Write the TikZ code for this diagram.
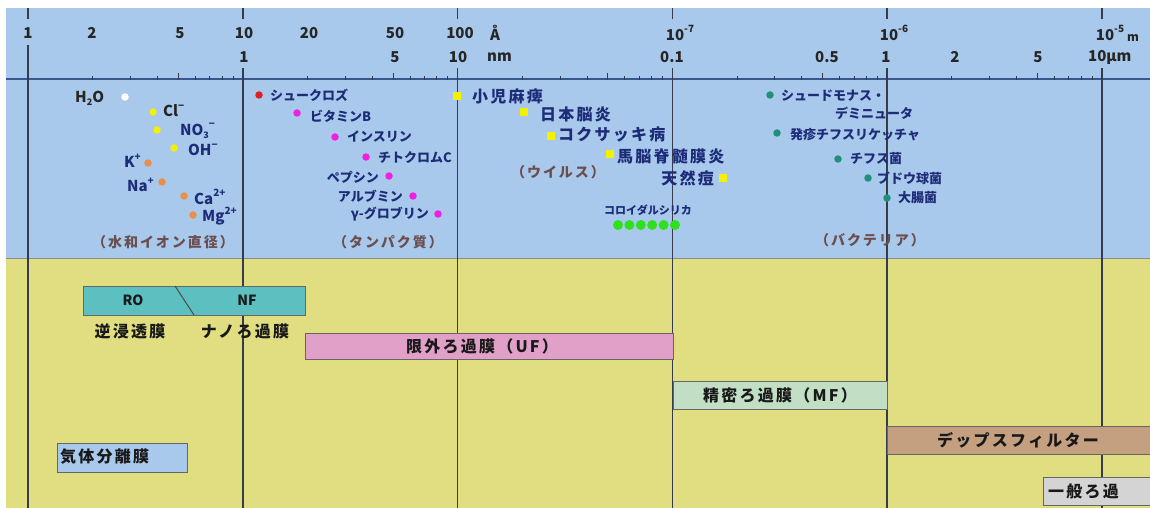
\documentclass[tikz,border=0pt]{standalone}
\usepackage{fontspec}
\setmainfont{Noto Sans CJK JP}
\newfontfamily\jpw{Noto Sans CJK JP}[LetterSpace=14]
\newcommand\fs[1]{\fontsize{#1}{#1}\selectfont}
\newcommand\spx[1]{\raisebox{0.9ex}{\fs{10}#1}}
\newcommand\sbx[1]{\raisebox{-0.4ex}{\fs{9}#1}}
\definecolor{bluebg}{HTML}{A9C9EC}
\definecolor{yellowbg}{HTML}{E0DE80}
\definecolor{navy}{HTML}{1E2C78}
\definecolor{capc}{HTML}{6B4E4E}
\definecolor{decc}{HTML}{363C4C}
\definecolor{axc}{HTML}{3A5890}
\definecolor{dyel}{HTML}{F5F000}
\definecolor{dora}{HTML}{E8904A}
\definecolor{dred}{HTML}{E02020}
\definecolor{dmag}{HTML}{F020E0}
\definecolor{dteal}{HTML}{20907A}
\definecolor{dgrn}{HTML}{30E020}
\definecolor{ronf}{HTML}{5CC0C0}
\definecolor{ufc}{HTML}{E0A0C8}
\definecolor{mfc}{HTML}{C2DEC4}
\definecolor{depc}{HTML}{C4A080}
\definecolor{genc}{HTML}{D4D4D4}
\tikzset{
  axnum/.style={inner sep=0, text=black!85, font=\bfseries\fs{15}},
  ion/.style={inner sep=0, text=black!85, font=\bfseries\fs{15}},
  prot/.style={inner sep=0, text=navy, font=\bfseries\fs{13}},
  vir/.style={inner sep=0, text=navy, font=\jpw\bfseries\fs{16}},
  capt/.style={inner sep=0, text=capc, font=\jpw\bfseries\fs{14}},
  dot/.style={circle, inner sep=0, minimum size=7.5pt, fill=#1},
  sqd/.style={rectangle, inner sep=0, minimum size=8pt, fill=dyel},
  gdot/.style={circle, inner sep=0, minimum size=10pt, fill=dgrn},
  band/.style={draw=black!60, line width=1pt, fill=#1},
  bandtxt/.style={inner sep=0, text=black!90, font=\jpw\bfseries\fs{16}},
  dec/.style={draw=decc, line width=1.7pt},
}
\begin{document}
\begin{tikzpicture}[x=1pt,y=-1pt]
\useasboundingbox (0,0) rectangle (1150,508);
\fill[white] (0,0) rectangle (1150,508);
\fill[bluebg] (6,8) rectangle (1150,258);
\fill[yellowbg] (6,258) rectangle (1150,508);
\draw[black!45, line width=0.8pt] (6,258) -- (1150,258);
% axis
\draw[axc, line width=1.2pt] (6,79) -- (1150,79);
\foreach \d in {0,...,4} {
  \foreach \m in {2,...,9} {
    \pgfmathsetmacro\xx{28+214.8*(\d+ln(\m)/ln(10))}
    \ifnum\m=5
      \draw[decc, line width=0.8pt] (\xx,73) -- (\xx,80);
    \else
      \draw[decc, line width=0.8pt] (\xx,76) -- (\xx,80);
    \fi
  }
}
\foreach \i in {0,...,5} {
  \pgfmathsetmacro\xx{28+214.8*\i}
  \draw[dec] (\xx,8) -- (\xx,19);
}
\draw[dec] (28,45) -- (28,508);
\foreach \i in {1,...,5} {
  \pgfmathsetmacro\xx{28+214.8*\i}
  \draw[dec] (\xx,68) -- (\xx,508);
}
% axis labels row 1
\node[axnum] (a1) at (28,33) {1};
\node[axnum] (a2) at (92,33) {2};
\node[axnum] (a5) at (180,33) {5};
\node[axnum] (a10) at (244,33) {10};
\node[axnum] (a20) at (309,33) {20};
\node[axnum] (a50) at (395,33) {50};
\node[axnum] (a100) at (460,33) {100};
\node[axnum, anchor=west] (aang) at (490,33) {Å};
\node[axnum] (am7) at (680,33) {10\spx{-7}};
\node[axnum] (am6) at (894,33) {10\spx{-6}};
\node[axnum] (am5) at (1110,33) {10\spx{-5}};
\node[axnum, font=\bfseries\fs{12}, anchor=west] (am) at (1127,38) {m};
% axis labels row 2
\node[axnum] (b1) at (244,57) {1};
\node[axnum] (b5) at (395,57) {5};
\node[axnum] (b10) at (458,57) {10};
\node[axnum, anchor=west] (bnm) at (487,57) {nm};
\node[axnum] (b01) at (672,57) {0.1};
\node[axnum] (b05) at (827,57) {0.5};
\node[axnum] (b1u) at (886,57) {1};
\node[axnum] (b2u) at (955,57) {2};
\node[axnum] (b5u) at (1038,57) {5};
\node[axnum, anchor=west] (b10u) at (1088,57) {10{\itshape µ}m};
% ions
\node[dot=white] (dh2o) at (125,97) {};
\node[ion, anchor=west] (th2o) at (75,98) {H\sbx{2}O};
\node[dot=dyel] (dcl) at (153,112) {};
\node[ion, anchor=west] (tcl) at (163,111) {Cl\spx{−}};
\node[dot=dyel] (dno3) at (157,130) {};
\node[ion, anchor=west, text=navy] (tno3) at (180,131) {NO\sbx{3}\spx{−}};
\node[dot=dyel] (doh) at (174,148) {};
\node[ion, anchor=west, text=navy] (toh) at (188,150) {OH\spx{−}};
\node[dot=dora] (dk) at (148,163) {};
\node[ion, anchor=east, text=navy] (tk) at (141,161) {K\spx{+}};
\node[dot=dora] (dna) at (162,182) {};
\node[ion, anchor=east, text=navy] (tna) at (154,185) {Na\spx{+}};
\node[dot=dora] (dca) at (184,196) {};
\node[ion, anchor=west, text=navy] (tca) at (194,197) {Ca\spx{2+}};
\node[dot=dora] (dmg) at (193,215) {};
\node[ion, anchor=west, text=navy] (tmg) at (202,216) {Mg\spx{2+}};
\node[capt] (cion) at (163,242) {（水和イオン直径）};
% proteins
\node[dot=dred] (dsuc) at (259,95) {};
\node[prot, anchor=west] (tsuc) at (270,95) {シュークロズ};
\node[dot=dmag] (dvit) at (297,113) {};
\node[prot, anchor=west] (tvit) at (310,116) {ビタミンB};
\node[dot=dmag] (dins) at (335,137) {};
\node[prot, anchor=west] (tins) at (347,137) {インスリン};
\node[dot=dmag] (dcyt) at (366,157) {};
\node[prot, anchor=west] (tcyt) at (378,158) {チトクロムC};
\node[dot=dmag] (dpep) at (389,176) {};
\node[prot, anchor=east] (tpep) at (379,177) {ペプシン};
\node[dot=dmag] (dalb) at (413,196) {};
\node[prot, anchor=east] (talb) at (403,196) {アルブミン};
\node[dot=dmag] (dglo) at (438,214) {};
\node[prot, anchor=east] (tglo) at (429,214) {γ-グロブリン};
\node[capt] (cprot) at (388,242) {（タンパク質）};
% viruses
\node[sqd] (dpol) at (457,96) {};
\node[vir, anchor=west] (tpol) at (472,96) {小児麻痺};
\node[sqd] (djap) at (524,112) {};
\node[vir, anchor=west] (tjap) at (540,114) {日本脳炎};
\node[sqd] (dcox) at (551,136) {};
\node[vir, anchor=west] (tcox) at (558,134) {コクサッキ病};
\node[sqd] (dequ) at (610,154) {};
\node[vir, anchor=west] (tequ) at (617,156) {馬脳脊髄膜炎};
\node[sqd] (dsma) at (723,178) {};
\node[vir, anchor=east] (tsma) at (714,178) {天然痘};
\node[capt] (cvir) at (558,172) {（ウイルス）};
\node[prot, font=\bfseries\fs{11}] (tsil) at (648,210) {コロイダルシリカ};
\foreach \i in {0,...,5} {
  \node[gdot] (g\i) at (618+11.4*\i,225) {};
}
% bacteria
\node[dot=dteal] (dpse) at (770,95) {};
\node[prot, anchor=west] (tpse) at (781,96) {シュードモナス・};
\node[prot, anchor=west] (tpse2) at (835,113) {デミニュータ};
\node[dot=dteal] (dric) at (777,133) {};
\node[prot, anchor=west] (tric) at (790,135) {発疹チフスリケッチャ};
\node[dot=dteal] (dtyp) at (838,159) {};
\node[prot, anchor=west] (ttyp) at (850,159) {チフス菌};
\node[dot=dteal] (dsta) at (868,178) {};
\node[prot, anchor=west] (tsta) at (877,178) {ブドウ球菌};
\node[dot=dteal] (deco) at (887,198) {};
\node[prot, anchor=west] (teco) at (898,198) {大腸菌};
\node[capt] (cbac) at (870,240) {（バクテリア）};
% membrane bands
\draw[band=ronf] (83,286) rectangle (305,315);
\draw[black!70, line width=1pt] (175,286) -- (194,315);
\node[bandtxt, font=\bfseries\fs{14}] (tro) at (133,300) {RO};
\node[bandtxt, font=\bfseries\fs{14}] (tnf) at (247,300) {NF};
\node[bandtxt] (lro) at (130,331) {逆浸透膜};
\node[bandtxt] (lnf) at (245,331) {ナノろ過膜};
\draw[band=ufc] (305,333) rectangle (673,359);
\node[bandtxt] (tuf) at (482,346) {限外ろ過膜（UF）};
\draw[band=mfc] (673,381) rectangle (887,409);
\node[bandtxt] (tmf) at (780,395) {精密ろ過膜（MF）};
\draw[band=depc] (887,426) rectangle (1152,454);
\node[bandtxt] (tdep) at (1018,440) {デップスフィルター};
\draw[band=genc] (1043,477) rectangle (1152,505);
\node[bandtxt, anchor=west] (tgen) at (1048,491) {一般ろ過};
\draw[band=bluebg] (57,443) rectangle (187,472);
\node[bandtxt, anchor=west] (tgas) at (60,457) {気体分離膜};
\end{tikzpicture}
\end{document}
